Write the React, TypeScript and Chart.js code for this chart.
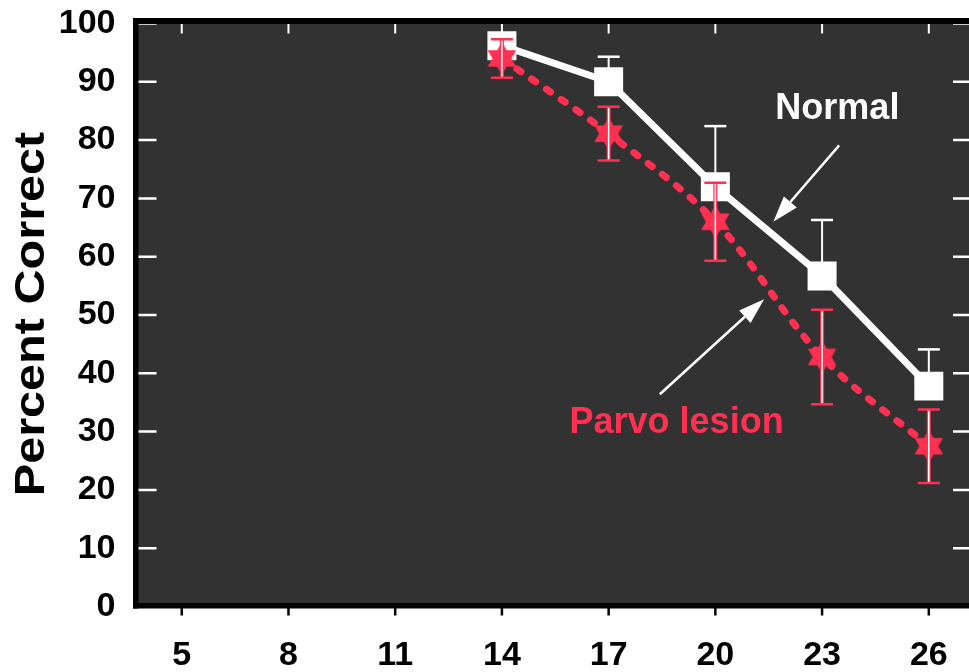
import { useEffect, useRef } from "react";
import { Chart, registerables } from "chart.js";

Chart.register(...registerables);

// Letter size (x) and percent correct for the two groups
const letterSizes = [14, 17, 20, 23, 26];
const normalPct = [96.2, 90.0, 72.0, 56.7, 37.8];
const normalErr = [1.0, 4.3, 10.4, 9.6, 6.3];
const parvoPct = [94.0, 81.1, 66.0, 42.8, 27.5];
const parvoErr = [3.3, 4.6, 6.7, 8.1, 6.3];

const xTicks = [5, 8, 11, 14, 17, 20, 23, 26];
const yTicks = [0, 10, 20, 30, 40, 50, 60, 70, 80, 90, 100];
const X_MIN = 3.7;
const X_MAX = 27.13;

// Callout labels and arrows, in data units
const calloutTexts = ["Normal", "Parvo lesion"];
const calloutAt = [
  [23.43, 83.7],
  [18.91, 29.7],
];
const arrowFrom = [
  [23.48, 79.1],
  [18.44, 36.4],
];
const arrowTo = [
  [21.63, 66.0],
  [21.37, 52.7],
];

const FONT = '"Liberation Sans", Arial, sans-serif';
const RED = "#ff3052";
const PANEL = "#323232";

function makeHexagram(r: number, color: string): HTMLCanvasElement {
  const size = Math.ceil(r * 2 + 4);
  const c = document.createElement("canvas");
  c.width = size;
  c.height = size;
  const ctx = c.getContext("2d")!;
  const cx = size / 2;
  const cy = size / 2;
  ctx.fillStyle = color;
  for (const start of [-Math.PI / 2, Math.PI / 2]) {
    ctx.beginPath();
    for (let i = 0; i < 3; i++) {
      const a = start + (i * 2 * Math.PI) / 3;
      const px = cx + r * Math.cos(a);
      const py = cy + r * Math.sin(a);
      if (i === 0) ctx.moveTo(px, py);
      else ctx.lineTo(px, py);
    }
    ctx.closePath();
    ctx.fill();
  }
  return c;
}

function drawArrow(ctx: CanvasRenderingContext2D, x1: number, y1: number, x2: number, y2: number) {
  const ang = Math.atan2(y2 - y1, x2 - x1);
  const headLen = 26;
  const headHalf = 8.5;
  const bx = x2 - headLen * Math.cos(ang);
  const by = y2 - headLen * Math.sin(ang);
  ctx.strokeStyle = "#fff";
  ctx.fillStyle = "#fff";
  ctx.lineWidth = 2.5;
  ctx.beginPath();
  ctx.moveTo(x1, y1);
  ctx.lineTo(bx, by);
  ctx.stroke();
  ctx.beginPath();
  ctx.moveTo(x2, y2);
  ctx.lineTo(bx + headHalf * Math.sin(ang), by - headHalf * Math.cos(ang));
  ctx.lineTo(bx - headHalf * Math.sin(ang), by + headHalf * Math.cos(ang));
  ctx.closePath();
  ctx.fill();
}

const panelPlugin = {
  id: "panel",
  beforeDraw(chart: any) {
    const { ctx, chartArea: a } = chart;
    ctx.save();
    ctx.fillStyle = PANEL;
    ctx.fillRect(a.left, a.top - 2, a.right - a.left, a.bottom - a.top + 2);
    ctx.restore();
  },
  afterDatasetsDraw(chart: any) {
    const { ctx } = chart;
    const xs = chart.scales.x;
    const ys = chart.scales.y;
    const capHalf = 11;
    ctx.save();
    // Normal: upper error bars only
    letterSizes.forEach((s, i) => {
      const px = xs.getPixelForValue(s);
      const yv = ys.getPixelForValue(normalPct[i]);
      const yt = ys.getPixelForValue(normalPct[i] + normalErr[i]);
      ctx.strokeStyle = "#fff";
      ctx.lineWidth = 2;
      ctx.beginPath();
      ctx.moveTo(px, yv);
      ctx.lineTo(px, yt);
      ctx.stroke();
      ctx.lineWidth = 2.5;
      ctx.beginPath();
      ctx.moveTo(px - capHalf, yt);
      ctx.lineTo(px + capHalf, yt);
      ctx.stroke();
    });
    // Parvo lesion: full error bars
    letterSizes.forEach((s, i) => {
      const px = xs.getPixelForValue(s);
      const yt = ys.getPixelForValue(parvoPct[i] + parvoErr[i]);
      const yb = ys.getPixelForValue(parvoPct[i] - parvoErr[i]);
      ctx.strokeStyle = RED;
      ctx.lineWidth = 4;
      ctx.beginPath();
      ctx.moveTo(px, yt);
      ctx.lineTo(px, yb);
      ctx.stroke();
      ctx.strokeStyle = "#fff";
      ctx.lineWidth = 1.5;
      ctx.beginPath();
      ctx.moveTo(px, yt);
      ctx.lineTo(px, yb);
      ctx.stroke();
      ctx.strokeStyle = RED;
      ctx.lineWidth = 2.5;
      ctx.beginPath();
      ctx.moveTo(px - capHalf, yt);
      ctx.lineTo(px + capHalf, yt);
      ctx.moveTo(px - capHalf, yb);
      ctx.lineTo(px + capHalf, yb);
      ctx.stroke();
    });
    ctx.restore();
  },
  afterDraw(chart: any) {
    const { ctx, chartArea: a } = chart;
    const xs = chart.scales.x;
    const ys = chart.scales.y;
    ctx.save();
    // Inner tick marks
    ctx.strokeStyle = "#fff";
    ctx.lineWidth = 2.5;
    yTicks.forEach((v) => {
      const py = ys.getPixelForValue(v);
      ctx.beginPath();
      ctx.moveTo(a.left + 2, py);
      ctx.lineTo(a.left + 21, py);
      ctx.moveTo(a.right - 16, py);
      ctx.lineTo(a.right, py);
      ctx.stroke();
    });
    ctx.lineWidth = 2;
    xTicks.forEach((v) => {
      const px = xs.getPixelForValue(v);
      ctx.beginPath();
      ctx.moveTo(px, a.top);
      ctx.lineTo(px, a.top + 10);
      ctx.stroke();
    });
    // Frame
    ctx.fillStyle = "#000";
    ctx.fillRect(a.left - 2.5, a.top - 5.5, 5.5, a.bottom - a.top + 7.5);
    ctx.fillRect(a.left - 2.5, a.top - 5.5, a.right - a.left + 10, 6);
    ctx.fillRect(a.left - 2.5, a.bottom - 3.5, a.right - a.left + 10, 5.5);
    // Outer tick marks on the bottom
    ctx.strokeStyle = "#000";
    ctx.lineWidth = 2.5;
    xTicks.forEach((v) => {
      const px = xs.getPixelForValue(v);
      ctx.beginPath();
      ctx.moveTo(px, a.bottom + 1);
      ctx.lineTo(px, a.bottom + 9);
      ctx.stroke();
    });
    // Callouts
    arrowFrom.forEach((f, i) => {
      drawArrow(
        ctx,
        xs.getPixelForValue(f[0]),
        ys.getPixelForValue(f[1]),
        xs.getPixelForValue(arrowTo[i][0]),
        ys.getPixelForValue(arrowTo[i][1])
      );
    });
    ctx.font = `bold 36px ${FONT}`;
    ctx.textAlign = "center";
    ctx.textBaseline = "alphabetic";
    calloutTexts.forEach((t, i) => {
      ctx.fillStyle = i === 0 ? "#fff" : RED;
      ctx.fillText(t, xs.getPixelForValue(calloutAt[i][0]), ys.getPixelForValue(calloutAt[i][1]));
    });
    // Y axis title
    ctx.translate(44, 314);
    ctx.rotate(-Math.PI / 2);
    ctx.scale(1.13, 1);
    ctx.font = `bold 43px ${FONT}`;
    ctx.fillStyle = "#000";
    ctx.fillText("Percent Correct", 0, 0);
    ctx.restore();
  },
};

function clearPadding(scale: any) {
  scale.paddingTop = 0;
  scale.paddingBottom = 0;
  scale.paddingLeft = 0;
  scale.paddingRight = 0;
}

export default function App() {
  const canvasRef = useRef<HTMLCanvasElement | null>(null);

  useEffect(() => {
    const canvas = canvasRef.current;
    if (!canvas) return;
    const star = makeHexagram(16.5, RED);
    const tickFont = { family: FONT, size: 34, weight: "bold" as const };
    const chart = new Chart(canvas, {
      type: "line",
      data: {
        datasets: [
          {
            label: "Parvo lesion",
            data: letterSizes.map((s, i) => ({ x: s, y: parvoPct[i] })),
            borderColor: RED,
            backgroundColor: RED,
            borderWidth: 7,
            borderDash: [5, 13],
            borderCapStyle: "round",
            tension: 0.35,
            pointStyle: star,
            pointRadius: 16,
            pointBorderWidth: 0,
            order: 0,
          },
          {
            label: "Normal",
            data: letterSizes.map((s, i) => ({ x: s, y: normalPct[i] })),
            borderColor: "#fff",
            backgroundColor: "#fff",
            borderWidth: 7,
            tension: 0,
            pointStyle: "rect",
            pointRadius: 20.5,
            pointBorderWidth: 0,
            order: 1,
          },
        ],
      },
      options: {
        animation: false,
        responsive: true,
        maintainAspectRatio: false,
        layout: { autoPadding: false, padding: { top: 23.5, left: 0, right: 0, bottom: 0 } },
        plugins: { legend: { display: false }, tooltip: { enabled: false } },
        scales: {
          x: {
            type: "linear",
            min: X_MIN,
            max: X_MAX,
            grid: { display: false },
            border: { display: false },
            afterBuildTicks: (scale: any) => {
              scale.ticks = xTicks.map((value) => ({ value }));
            },
            afterFit: (scale: any) => {
              scale.height = 65.5;
              clearPadding(scale);
            },
            ticks: {
              font: tickFont,
              color: "#000",
              padding: 21,
              maxRotation: 0,
              autoSkip: false,
            },
          },
          y: {
            type: "linear",
            min: 0,
            max: 100,
            grid: { display: false },
            border: { display: false },
            afterBuildTicks: (scale: any) => {
              scale.ticks = yTicks.map((value) => ({ value }));
            },
            afterFit: (scale: any) => {
              scale.width = 135.5;
              clearPadding(scale);
            },
            ticks: {
              font: tickFont,
              color: "#000",
              padding: 12,
              autoSkip: false,
            },
          },
        },
      },
      plugins: [panelPlugin],
    });
    return () => chart.destroy();
  }, []);

  return (
    <div
      style={{
        position: "fixed",
        left: 0,
        top: 0,
        width: 969,
        height: 672,
        background: "#fff",
        overflow: "hidden",
      }}
    >
      <canvas ref={canvasRef} />
    </div>
  );
}
